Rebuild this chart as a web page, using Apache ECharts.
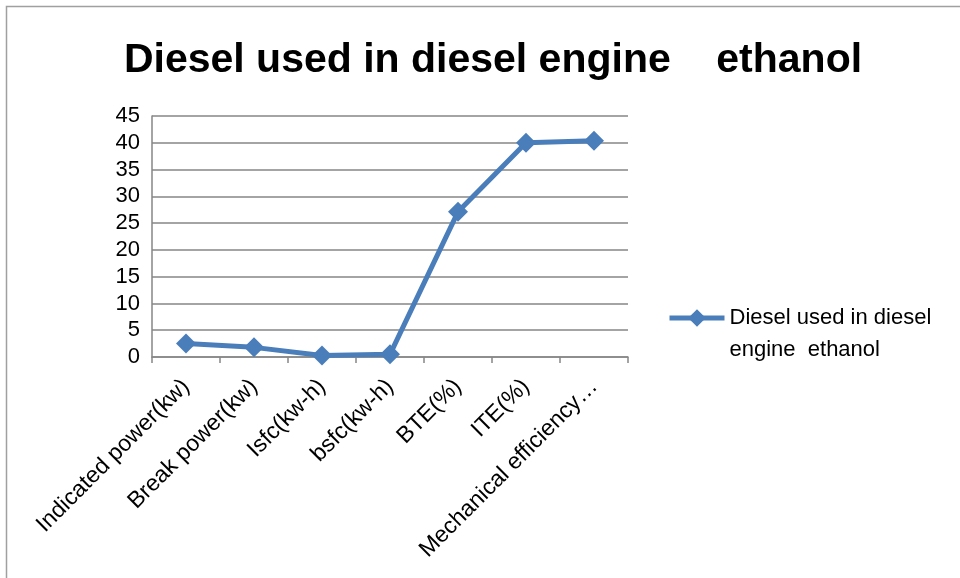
<!DOCTYPE html>
<html>
<head>
<meta charset="utf-8">
<script src="https://cdn.jsdelivr.net/npm/echarts@6/dist/echarts.min.js"></script>
<style>
html, body { margin: 0; padding: 0; background: #fff; }
#chart { width: 960px; height: 578px; }
</style>
</head>
<body>
<div id="chart"></div>
<script>
// chart data
var categories = ['Indicated power(kw)', 'Break power(kw)', 'Isfc(kw-h)', 'bsfc(kw-h)', 'BTE(%)', 'ITE(%)', 'Mechanical efficiency\u2026'];
var seriesName = 'Diesel used in diesel engine  ethanol';
var values = [2.5, 1.8, 0.3, 0.5, 27.1, 40.0, 40.4];
var yTicks = [0, 5, 10, 15, 20, 25, 30, 35, 40, 45];

var myChart = echarts.init(document.getElementById('chart'));
var blue = '#4a7ebb';
var grey = '#868686';

var option = {
	animation: false,
	title: {
		text: 'Diesel used in diesel engine    ethanol',
		left: 488,
		textAlign: 'center',
		top: 35,
		textStyle: {
			fontFamily: 'Liberation Sans',
			fontWeight: 'bold',
			fontSize: 41,
			color: '#000'
		}
	},
	graphic: [
		{
			type: 'rect',
			shape: { x: 6.5, y: 6.5, width: 960, height: 580 },
			style: { fill: 'none', stroke: '#a0a0a0', lineWidth: 1.5 }
		}
	],
	legend: {
		left: 667,
		top: 270,
		padding: 0,
		orient: 'vertical',
		itemWidth: 55,
		itemHeight: 22,
		itemGap: 5,
		data: [seriesName],
		// blank first line keeps the marker level with the first text line
		formatter: function () { return ' \nDiesel used in diesel\nengine  ethanol'; },
		lineStyle: { width: 5 },
		textStyle: {
			fontFamily: 'Liberation Sans',
			fontSize: 22,
			color: '#000',
			lineHeight: 32
		}
	},
	grid: {
		left: 152,
		top: 116,
		width: 476,
		height: 241
	},
	xAxis: {
		type: 'category',
		data: categories,
		boundaryGap: true,
		axisLine: { lineStyle: { color: grey, width: 1.5 } },
		axisTick: { show: true, length: 6, lineStyle: { color: grey, width: 1.5 } },
		axisLabel: {
			interval: 0,
			rotate: 45,
			margin: 26,
			fontFamily: 'Liberation Sans',
			fontSize: 23,
			color: '#000'
		}
	},
	yAxis: {
		type: 'value',
		min: yTicks[0],
		max: yTicks[yTicks.length - 1],
		interval: 5,
		axisLine: { show: true, lineStyle: { color: grey, width: 1.5 } },
		axisTick: { show: false },
		splitLine: { lineStyle: { color: grey, width: 1.5 } },
		axisLabel: {
			margin: 12,
			fontFamily: 'Liberation Sans',
			fontSize: 22,
			color: '#000'
		}
	},
	series: [
		{
			name: seriesName,
			type: 'line',
			data: values,
			symbol: 'diamond',
			symbolSize: 20,
			itemStyle: { color: blue },
			lineStyle: { color: blue, width: 5 }
		}
	]
};
myChart.setOption(option);
</script>
</body>
</html>
